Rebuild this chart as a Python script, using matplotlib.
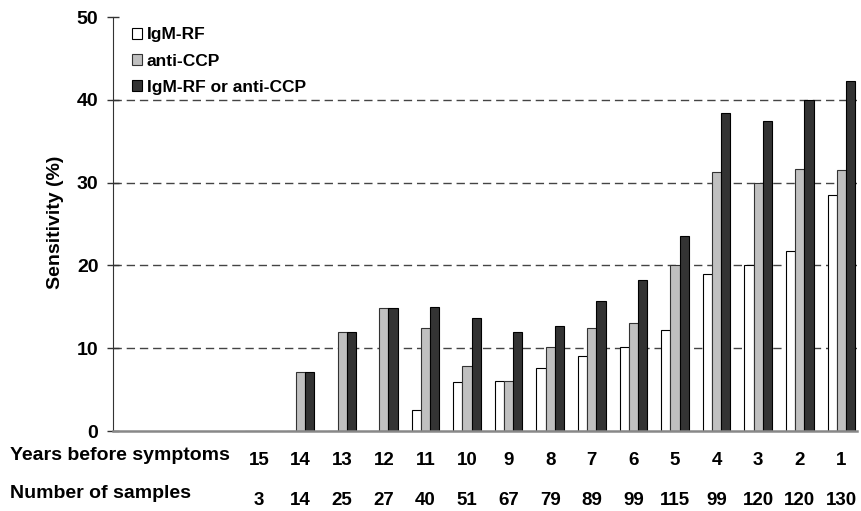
import numpy as np
import matplotlib
matplotlib.use('Agg')
import matplotlib.pyplot as plt
from matplotlib.transforms import ScaledTranslation

plt.rcParams['font.family'] = ['Liberation Sans', 'DejaVu Sans']
plt.rcParams['font.weight'] = 'bold'

years = ['15', '14', '13', '12', '11', '10', '9', '8', '7', '6', '5', '4', '3', '2', '1']
samples = ['3', '14', '25', '27', '40', '51', '67', '79', '89', '99', '115', '99', '120', '120', '130']
igm_rf = [0, 0, 0, 0, 2.5, 5.9, 6.0, 7.6, 9.0, 10.1, 12.2, 19.0, 20.0, 21.7, 28.5]
anti_ccp = [0, 7.1, 12.0, 14.8, 12.5, 7.8, 6.0, 10.1, 12.4, 13.1, 20.0, 31.3, 30.0, 31.7, 31.5]
either = [0, 7.1, 12.0, 14.8, 15.0, 13.7, 11.9, 12.7, 15.7, 18.2, 23.5, 38.4, 37.5, 40.0, 42.3]

fig = plt.figure(figsize=(8.61, 5.11), dpi=100)
ax = fig.add_axes([113/861, 1 - 431/511, 744/861, 414/511])

x = np.arange(len(years))
w = 0.22
ax.bar(x - w, igm_rf, w, color='white', edgecolor='black', linewidth=0.8, label='IgM-RF', zorder=3)
ax.bar(x, anti_ccp, w, color='#c0c0c0', edgecolor='#333333', linewidth=0.8, label='anti-CCP', zorder=3)
ax.bar(x + w, either, w, color='#333333', edgecolor='black', linewidth=0.8,
       label='IgM-RF or anti-CCP', zorder=3)

# category 15 sits well to the right of the y axis, as in the original
ax.set_xlim(-3.51, 14.375)
ax.set_ylim(0, 50)
ax.set_yticks([0, 10, 20, 30, 40, 50])
ax.tick_params(axis='y', labelsize=14, length=9, direction='inout', width=1,
               color='#333333', pad=6)
ax.set_xticks([])
for t in ax.get_yticklabels():
    t.set_fontweight('bold')
for yv in [10, 20, 30, 40]:
    ax.axhline(yv, color='#444444', linestyle=(0, (6, 3.5)), linewidth=1, zorder=1)
ax.spines['top'].set_visible(False)
ax.spines['right'].set_visible(False)
ax.spines['left'].set_color('#333333')
ax.spines['bottom'].set_color('#888888')
ax.spines['bottom'].set_linewidth(1.8)
ax.spines['bottom'].set_zorder(4)

fig.text(55/861, 1 - 222/511, 'Sensitivity (%)', rotation=90, ha='center', va='center',
         fontsize=14, fontweight='bold')

ax.legend(loc='upper left', bbox_to_anchor=(0.011, 1.0), frameon=False,
          handlelength=0.58, handleheight=0.58, handletextpad=0.3, labelspacing=0.65,
          borderpad=0.1, prop={'weight': 'bold', 'size': 12.5})

# rows under the axis
row1 = ax.transData + ScaledTranslation(0, -0.29, fig.dpi_scale_trans)
row2 = ax.transData + ScaledTranslation(0, -0.69, fig.dpi_scale_trans)
for i in range(len(years)):
    ax.text(x[i], 0, years[i], ha='center', va='center', fontsize=13.5,
            fontweight='bold', transform=row1)
    ax.text(x[i], 0, samples[i], ha='center', va='center', fontsize=13.5,
            fontweight='bold', transform=row2)
fig.text(10/861, 1 - 456/511, 'Years before symptoms', ha='left', va='center',
         fontsize=14, fontweight='bold')
fig.text(10/861, 1 - 493/511, 'Number of samples', ha='left', va='center',
         fontsize=14, fontweight='bold')

fig.savefig('out.png', dpi=100)
